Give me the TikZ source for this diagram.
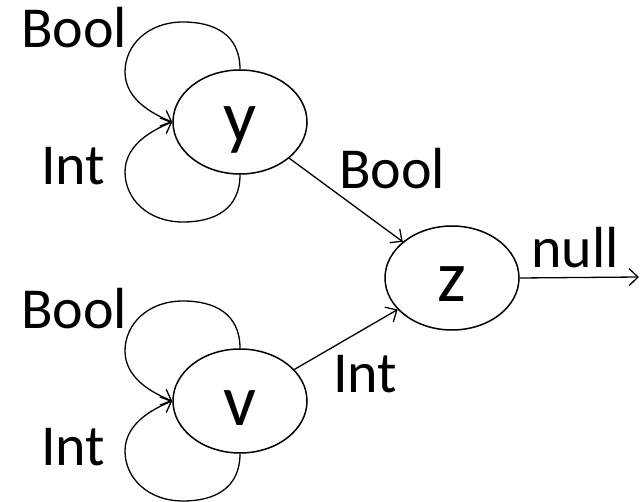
\documentclass[tikz,border=0pt]{standalone}
\usepackage{fontspec}
\setmainfont{Carlito}
\usetikzlibrary{shapes.geometric,arrows.meta}
\begin{document}
\begin{tikzpicture}[x=1pt,y=-1pt,
  state/.style={draw,ellipse,line width=1.5pt,inner sep=0pt,minimum width=134pt,minimum height=104pt},
  letter/.style={font=\fontsize{73}{73}\selectfont,inner sep=0pt,anchor=base},
  tag/.style={font=\fontsize{58}{58}\selectfont,inner sep=0pt,anchor=base west},
  arr/.style={line width=1.3pt,-{Straight Barb[length=9pt,width=17pt,line width=1.3pt]}}]
\useasboundingbox (0,0) rectangle (640,502);

% states
\node[state] (y) at (240,122) {};
\node[state] (v) at (240,401) {};
\node[state] (z) at (452,278) {};
\node[letter] (ytxt) at (240,142) {y};
\node[letter] (vtxt) at (240,425) {v};
\node[letter] (ztxt) at (452,302) {z};

% self loops on y
\draw[arr] (y.north) .. controls (240,35) and (215,22) .. (183,22)
  .. controls (148,22) and (125,45) .. (125,72)
  .. controls (125,98) and (150,113) .. (y.west);
\draw[arr] (y.south) .. controls (240,209) and (215,222) .. (183,222)
  .. controls (148,222) and (125,199) .. (125,172)
  .. controls (125,146) and (150,131) .. (y.west);

% self loops on v
\draw[arr] (v.north) .. controls (240,314) and (215,301) .. (183,301)
  .. controls (148,301) and (125,324) .. (125,351)
  .. controls (125,377) and (150,392) .. (v.west);
\draw[arr] (v.south) .. controls (240,488) and (215,501) .. (183,501)
  .. controls (148,501) and (125,478) .. (125,451)
  .. controls (125,425) and (150,410) .. (v.west);

% transitions
\draw[arr] (y) -- (z);
\draw[arr] (v) -- (z);
\coordinate (out) at (639,277);
\draw[arr] (z.east) -- (out);

% labels
\node[tag] (yb) at (21,48) {Bool};
\node[tag] (yi) at (41,185) {Int};
\node[tag] (vb) at (21,329) {Bool};
\node[tag] (vi) at (41,465) {Int};
\node[tag] (eb) at (339,189) {Bool};
\node[tag] (ei) at (333,393) {Int};
\node[tag] (en) at (531,268) {null};
\end{tikzpicture}
\end{document}
